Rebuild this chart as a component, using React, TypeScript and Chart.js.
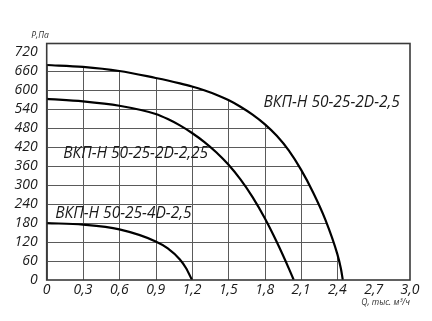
import { useEffect, useRef } from "react";
import { Chart, registerables } from "chart.js";

Chart.register(...registerables);

// Axis ticks
const qTicks = [0, 0.3, 0.6, 0.9, 1.2, 1.5, 1.8, 2.1, 2.4, 2.7, 3.0];
const pTicks = [0, 60, 120, 180, 240, 300, 360, 420, 480, 540, 600, 660, 720];

// Curve names
const curveNames = ["ВКП-Н 50-25-2D-2,5", "ВКП-Н 50-25-2D-2,25", "ВКП-Н 50-25-4D-2,5"];

// ВКП-Н 50-25-2D-2,5
const qA = [0, 0.3, 0.6, 0.9, 1.0, 1.1, 1.2, 1.3, 1.4, 1.5, 1.6, 1.7, 1.8, 1.9, 2.0, 2.1, 2.2, 2.3, 2.4, 2.43, 2.445];
const pA = [680, 674, 661, 639, 631, 622, 612, 600, 586, 569, 548, 523, 493, 456, 409, 349, 277, 192, 82, 35, 0];

// ВКП-Н 50-25-2D-2,25
const qB = [0, 0.3, 0.6, 0.9, 1.0, 1.1, 1.2, 1.3, 1.4, 1.5, 1.6, 1.7, 1.8, 1.9, 2.0, 2.04];
const pB = [573, 565, 551, 525, 509, 489, 465, 437, 404, 365, 318, 262, 196, 120, 36, 0];

// ВКП-Н 50-25-4D-2,5
const qC = [0, 0.3, 0.6, 0.9, 1.0, 1.1, 1.15, 1.2];
const pC = [180, 175, 160, 122, 100, 65, 38, 0];

const xTitle = "Q, тыс. м³/ч";
const yTitle = "P,Па";

const FONT = '"Open Sans", "DejaVu Sans", sans-serif';

const fmtQ = (v: number) => (v === 0 ? "0" : v.toFixed(1).replace(".", ","));

const customPlugin = {
  id: "customGrid",
  beforeDatasetsDraw(chart: any) {
    const { ctx, chartArea: a, scales } = chart;
    const x = scales.x;
    const y = scales.y;
    const meta = chart.getDatasetMeta(0);
    const line = meta.dataset;
    const pts = meta.data;
    ctx.save();
    try {
      if (line.updateControlPoints) line.updateControlPoints(a, "x");
      ctx.beginPath();
      line.path(ctx);
    } catch (e) {
      ctx.beginPath();
      pts.forEach((p: any, i: number) => (i === 0 ? ctx.moveTo(p.x, p.y) : ctx.lineTo(p.x, p.y)));
    }
    const last = pts[pts.length - 1];
    ctx.lineTo(last.x, a.bottom);
    ctx.lineTo(a.left, a.bottom);
    ctx.lineTo(pts[0].x, pts[0].y);
    ctx.closePath();
    ctx.clip();
    ctx.strokeStyle = "#5a5a5a";
    ctx.lineWidth = 1;
    ctx.beginPath();
    qTicks.forEach((v) => {
      const px = Math.round(x.getPixelForValue(v)) + 0.5;
      ctx.moveTo(px, a.top);
      ctx.lineTo(px, a.bottom);
    });
    pTicks.forEach((v) => {
      const py = Math.round(y.getPixelForValue(v)) + 0.5;
      ctx.moveTo(a.left, py);
      ctx.lineTo(a.right, py);
    });
    ctx.stroke();
    ctx.restore();
  },
  afterDatasetsDraw(chart: any) {
    const { ctx, chartArea: a, scales } = chart;
    const x = scales.x;
    const y = scales.y;
    ctx.save();
    ctx.strokeStyle = "#3a3a3a";
    ctx.lineWidth = 1.6;
    ctx.strokeRect(a.left, a.top, a.right - a.left, a.bottom - a.top);

    ctx.fillStyle = "#1a1a1a";
    ctx.font = `italic 15.5px ${FONT}`;
    ctx.textBaseline = "middle";
    ctx.textAlign = "left";
    const labelPos = [
      [1.79, 560],
      [0.136, 399],
      [0.07, 209],
    ];
    curveNames.forEach((name, i) => {
      ctx.fillText(name, x.getPixelForValue(labelPos[i][0]), y.getPixelForValue(labelPos[i][1]));
    });

    ctx.font = `italic 8.5px ${FONT}`;
    ctx.textAlign = "right";
    ctx.fillStyle = "#333";
    ctx.fillText(yTitle, a.left + 2, a.top - 8);
    ctx.fillText(xTitle, a.right, a.bottom + 23);
    ctx.restore();
  },
};

export default function App() {
  const ref = useRef<HTMLCanvasElement>(null);
  useEffect(() => {
    if (!ref.current) return;
    const mk = (qs: number[], ps: number[]) => qs.map((q, i) => ({ x: q, y: ps[i] }));
    const ds = (data: any) => ({
      data,
      borderColor: "#000",
      borderWidth: 2.2,
      pointRadius: 0,
      fill: false,
      cubicInterpolationMode: "monotone" as const,
    });
    const chart = new Chart(ref.current, {
      type: "line",
      data: {
        datasets: [ds(mk(qA, pA)), ds(mk(qB, pB)), ds(mk(qC, pC))],
      },
      options: {
        animation: false,
        responsive: false,
        events: [],
        layout: { padding: { left: 0, top: 43.5, right: 22, bottom: 0 } },
        plugins: { legend: { display: false }, tooltip: { enabled: false } },
        scales: {
          x: {
            type: "linear",
            min: 0,
            max: 3,
            afterBuildTicks: (s: any) => {
              s.ticks = qTicks.map((v) => ({ value: v }));
            },
            afterFit: (s: any) => {
              s.height = 41;
            },
            grid: { display: false, drawTicks: false },
            border: { display: false },
            ticks: {
              autoSkip: false,
              maxRotation: 0,
              padding: 2,
              color: "#1a1a1a",
              font: { family: FONT, size: 14, style: "italic" },
              callback: (v: any) => fmtQ(Number(v)),
            },
          },
          y: {
            type: "linear",
            min: 0,
            max: 748,
            afterBuildTicks: (s: any) => {
              s.ticks = pTicks.map((v) => ({ value: v }));
            },
            afterFit: (s: any) => {
              s.width = 46.7;
            },
            grid: { display: false, drawTicks: false },
            border: { display: false },
            ticks: {
              autoSkip: false,
              padding: 9,
              color: "#1a1a1a",
              font: { family: FONT, size: 14, style: "italic" },
              callback: (v: any) => String(v),
            },
          },
        },
      },
      plugins: [customPlugin],
    });
    return () => chart.destroy();
  }, []);
  return (
    <div style={{ position: "fixed", left: 0, top: 0, width: 432, height: 321, background: "#fff" }}>
      <canvas ref={ref} width={432} height={321} style={{ width: 432, height: 321 }} />
    </div>
  );
}
